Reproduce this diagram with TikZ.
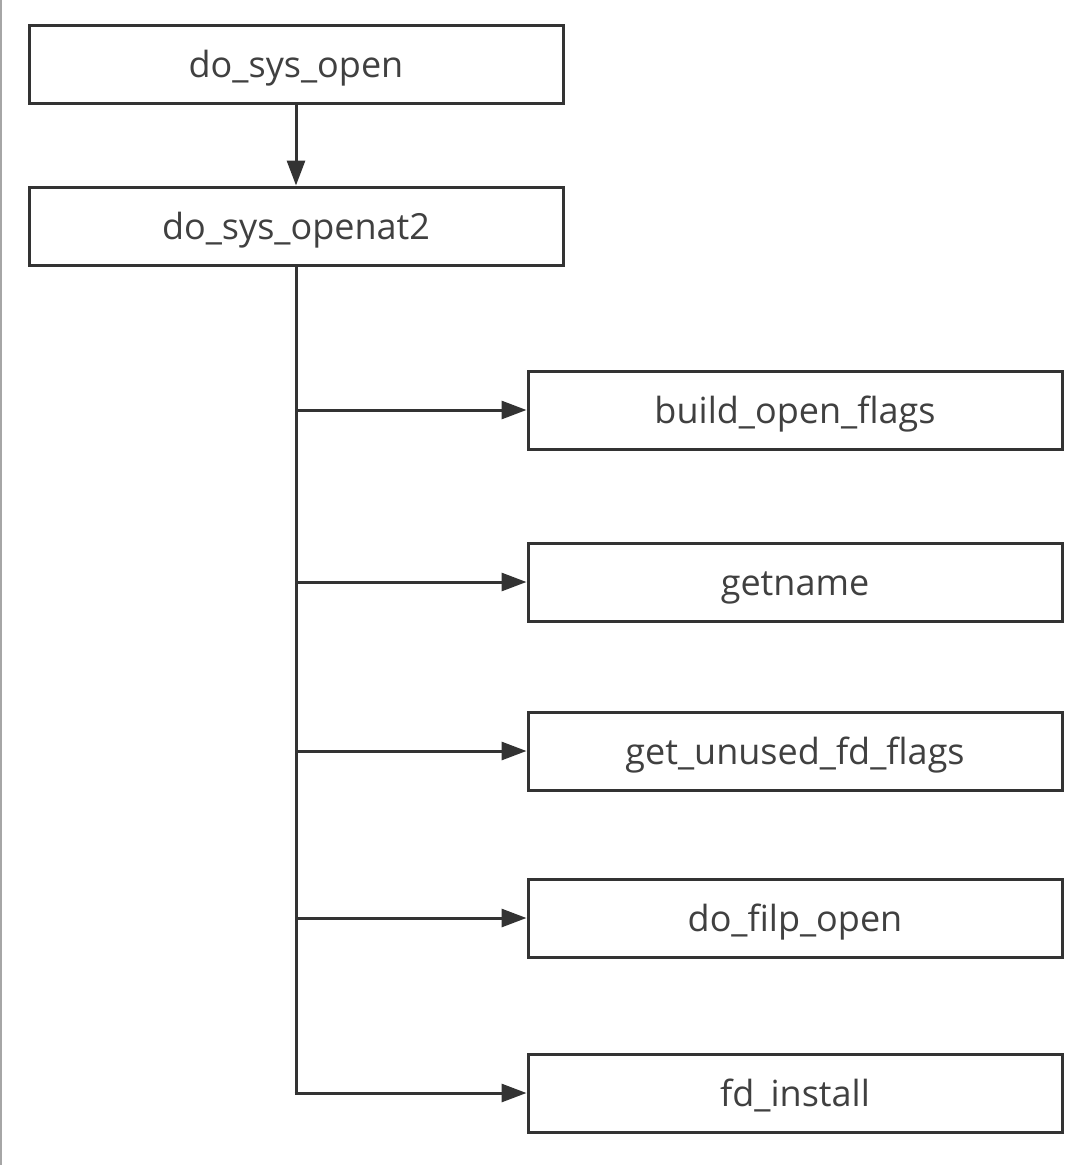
\documentclass[tikz,border=0pt]{standalone}
\usepackage{fontspec}
\setmainfont{Open Sans}
\usetikzlibrary{arrows.meta}
\definecolor{linec}{HTML}{333333}
\definecolor{textc}{HTML}{404040}
\tikzset{
  fbox/.style={draw=linec, line width=3pt, minimum width=534pt, minimum height=78pt, inner sep=0pt,
    font=\fontsize{36}{40}\selectfont, text=textc, anchor=center},
  conn/.style={draw=linec, line width=3pt, -{Triangle[length=25pt,width=18pt]}},
  trunk/.style={draw=linec, line width=3pt}
}
\newcommand{\lbl}[1]{\raisebox{-13pt}[0pt][0pt]{#1}}
\begin{document}
\begin{tikzpicture}[x=1pt,y=-1pt]
\fill[white] (0,0) rectangle (1080,1165);
\useasboundingbox (0,0) rectangle (1080,1165);
\draw[gray!70, line width=1.5pt] (1,0) -- (1,1165);
\node[fbox] (a) at (296,64.5) {\lbl{do\_sys\_open}};
\node[fbox] (b) at (296,226) {\lbl{do\_sys\_openat2}};
\node[fbox] (c1) at (795,410) {\lbl{build\_open\_flags}};
\node[fbox] (c2) at (795,582) {\lbl{getname}};
\node[fbox] (c3) at (795,751) {\lbl{get\_unused\_fd\_flags}};
\node[fbox] (c4) at (795,918) {\lbl{do\_filp\_open}};
\node[fbox] (c5) at (795,1093) {\lbl{fd\_install}};
\draw[conn] (a.south) -- (b.north);
\coordinate (t1) at (b.south |- c1.west);
\coordinate (t2) at (b.south |- c2.west);
\coordinate (t3) at (b.south |- c3.west);
\coordinate (t4) at (b.south |- c4.west);
\coordinate (t5) at (b.south |- c5.west);
\draw[trunk] (b.south) -- (t5);
\draw[conn] (t1) -- (c1.west);
\draw[conn] (t2) -- (c2.west);
\draw[conn] (t3) -- (c3.west);
\draw[conn] (t4) -- (c4.west);
\draw[conn] ([xshift=-1.5pt]t5) -- (c5.west);
\end{tikzpicture}
\end{document}
